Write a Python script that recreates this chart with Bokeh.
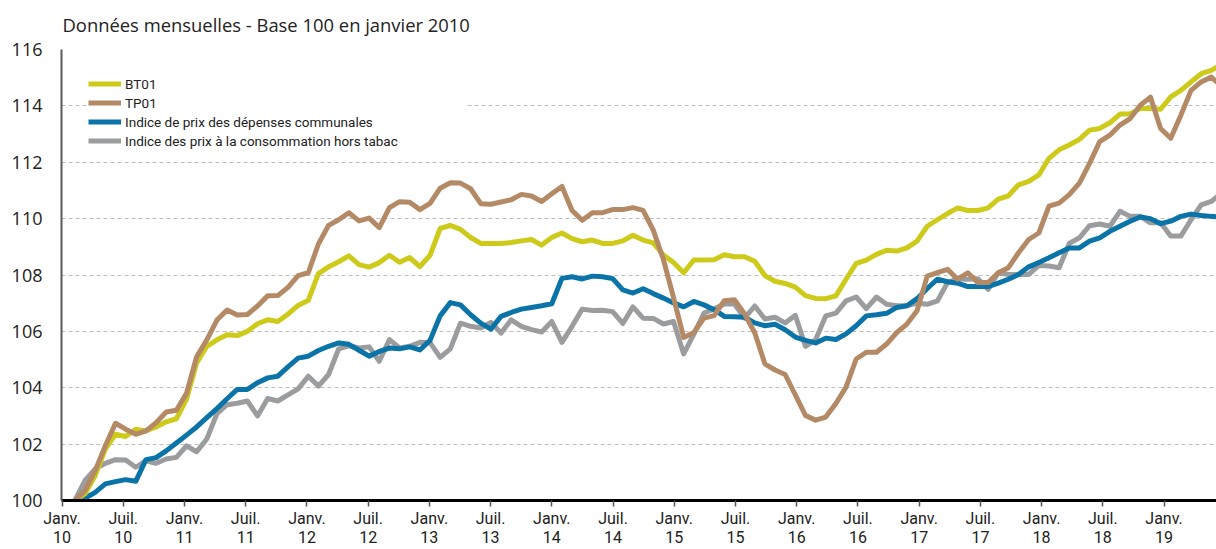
from bokeh.plotting import figure
from bokeh.models import Range1d, FixedTicker, Legend, LegendItem
from bokeh.embed import file_html
from bokeh.resources import INLINE

# month index: 0 = janvier 2010
months = list(range(114))

bt01 = [100.0, 100.24, 100.88, 101.82, 102.35, 102.27, 102.53, 102.47, 102.61, 102.79,
        102.9, 103.59, 104.88, 105.47, 105.7, 105.88, 105.85, 106.0, 106.27, 106.41,
        106.35, 106.61, 106.92, 107.1, 108.05, 108.29, 108.47, 108.68, 108.37, 108.28,
        108.44, 108.7, 108.45, 108.62, 108.3, 108.7, 109.65, 109.76, 109.62, 109.33,
        109.12, 109.12, 109.12, 109.15, 109.21, 109.26, 109.06, 109.33, 109.49, 109.29,
        109.18, 109.24, 109.12, 109.12, 109.21, 109.41, 109.24, 109.14, 108.71, 108.44,
        108.08, 108.53, 108.53, 108.54, 108.72, 108.65, 108.65, 108.49, 107.98, 107.78,
        107.7, 107.57, 107.27, 107.17, 107.16, 107.26, 107.85, 108.41, 108.53, 108.73,
        108.88, 108.85, 108.96, 109.2, 109.73, 109.96, 110.18, 110.38, 110.29, 110.29,
        110.38, 110.69, 110.81, 111.2, 111.32, 111.55, 112.14, 112.44, 112.61, 112.81,
        113.14, 113.2, 113.4, 113.71, 113.71, 113.91, 113.91, 113.88, 114.32, 114.55,
        114.85, 115.14, 115.26, 115.47]

tp01 = [100.0, 100.35, 101.06, 101.94, 102.74, 102.53, 102.35, 102.47, 102.76, 103.14,
        103.2, 103.8, 105.1, 105.7, 106.4, 106.76, 106.58, 106.6, 106.9, 107.26,
        107.27, 107.56, 107.98, 108.08, 109.1, 109.76, 109.96, 110.21, 109.92, 110.02,
        109.68, 110.39, 110.6, 110.58, 110.32, 110.54, 111.08, 111.27, 111.26, 111.06,
        110.53, 110.51, 110.59, 110.67, 110.86, 110.8, 110.61, 110.88, 111.14, 110.29,
        109.94, 110.21, 110.21, 110.32, 110.32, 110.39, 110.29, 109.59, 108.55, 107.2,
        105.78, 105.96, 106.47, 106.56, 107.09, 107.12, 106.62, 105.95, 104.85, 104.63,
        104.47, 103.75, 103.02, 102.85, 102.96, 103.44, 104.02, 105.02, 105.26, 105.26,
        105.55, 105.96, 106.26, 106.73, 107.96, 108.08, 108.2, 107.85, 108.08, 107.73,
        107.73, 108.08, 108.26, 108.79, 109.26, 109.49, 110.44, 110.55, 110.85, 111.26,
        111.96, 112.73, 112.96, 113.32, 113.55, 114.02, 114.31, 113.2, 112.85, 113.67,
        114.55, 114.85, 115.02, 114.7]

ipdc = [100.0, 100.08, 100.29, 100.59, 100.67, 100.74, 100.68, 101.45, 101.52, 101.76,
        102.04, 102.32, 102.61, 102.94, 103.26, 103.61, 103.94, 103.94, 104.18, 104.35,
        104.41, 104.74, 105.05, 105.12, 105.32, 105.47, 105.59, 105.54, 105.33, 105.12,
        105.29, 105.41, 105.38, 105.45, 105.34, 105.68, 106.55, 107.02, 106.94, 106.59,
        106.29, 106.08, 106.53, 106.67, 106.79, 106.85, 106.91, 106.98, 107.88, 107.94,
        107.86, 107.96, 107.94, 107.87, 107.47, 107.36, 107.51, 107.34, 107.18, 107.01,
        106.87, 107.06, 106.94, 106.77, 106.53, 106.52, 106.5, 106.3, 106.2, 106.25,
        106.06, 105.8, 105.68, 105.59, 105.76, 105.71, 105.91, 106.2, 106.55, 106.59,
        106.64, 106.85, 106.91, 107.16, 107.52, 107.85, 107.76, 107.71, 107.59, 107.59,
        107.59, 107.71, 107.85, 108.02, 108.29, 108.44, 108.61, 108.79, 108.96, 108.96,
        109.2, 109.32, 109.55, 109.73, 109.91, 110.06, 110.0, 109.82, 109.91, 110.08,
        110.16, 110.11, 110.08, 110.06]

ipc_ht = [100.0, 100.71, 101.12, 101.32, 101.45, 101.44, 101.18, 101.41, 101.32, 101.47,
          101.53, 101.94, 101.73, 102.18, 103.08, 103.4, 103.45, 103.53, 103.0, 103.62,
          103.53, 103.75, 103.96, 104.41, 104.06, 104.47, 105.38, 105.49, 105.41, 105.45,
          104.94, 105.71, 105.41, 105.47, 105.61, 105.6, 105.08, 105.38, 106.29, 106.18,
          106.12, 106.32, 105.94, 106.41, 106.18, 106.06, 105.98, 106.35, 105.61, 106.18,
          106.79, 106.74, 106.75, 106.7, 106.28, 106.87, 106.47, 106.46, 106.26, 106.35,
          105.2, 105.9, 106.65, 106.8, 106.97, 106.97, 106.47, 106.9, 106.44, 106.5,
          106.3, 106.57, 105.47, 105.7, 106.55, 106.65, 107.08, 107.22, 106.81, 107.22,
          106.96, 106.91, 106.91, 107.0, 106.96, 107.08, 107.73, 107.87, 107.85, 107.87,
          107.49, 108.08, 108.02, 108.02, 108.02, 108.34, 108.32, 108.26, 109.12, 109.32,
          109.75, 109.81, 109.73, 110.26, 110.08, 110.08, 109.85, 109.85, 109.38, 109.38,
          109.96, 110.49, 110.61, 110.9]

tick_labels = ["Janv.\n10", "Juil.\n10", "Janv.\n11", "Juil.\n11", "Janv.\n12", "Juil.\n12",
               "Janv.\n13", "Juil.\n13", "Janv.\n14", "Juil.\n14", "Janv.\n15", "Juil.\n15",
               "Janv.\n16", "Juil.\n16", "Janv.\n17", "Juil.\n17", "Janv.\n18", "Juil.\n18",
               "Janv.\n19"]
y_ticks = [100, 102, 104, 106, 108, 110, 112, 114, 116]

title_text = "Données mensuelles - Base 100 en janvier 2010"
legend_labels = ["BT01", "TP01", "Indice de prix des dépenses communales",
                 "Indice des prix à la consommation hors tabac"]
colors = ["#CDCA1A", "#B48A66", "#0A74A8", "#9B9C9E"]

# layout constants
TICK0, TICK_STEP = -1.27, 6.034
x_ticks = [round(TICK0 + k * TICK_STEP, 3) for k in range(len(tick_labels))]

p = figure(width=1216, height=549, output_backend="svg", toolbar_location=None,
           x_range=Range1d(-1.32, 112.51), y_range=Range1d(100, 116),
           min_border_left=61, min_border_right=0, min_border_top=49, min_border_bottom=47)
p.outline_line_color = None
p.background_fill_color = "white"
p.border_fill_color = "white"

p.title.text = title_text
p.title.text_font = "Open Sans"
p.title.text_font_size = "18.4px"
p.title.text_font_style = "normal"
p.title.text_color = "#222222"
p.title.align = "left"
p.title.vertical_align = "top"
p.title.offset = 1
p.title.standoff = 22

# grid
p.xgrid.grid_line_color = None
p.ygrid.ticker = FixedTicker(ticks=y_ticks)
p.ygrid.grid_line_color = "#BDBDBD"
p.ygrid.grid_line_width = 1
p.ygrid.grid_line_dash = "4 3"

# y axis
p.yaxis.ticker = FixedTicker(ticks=y_ticks)
p.yaxis.axis_line_color = "#5A5A5A"
p.yaxis.axis_line_width = 2
p.yaxis.major_tick_line_color = None
p.yaxis.major_tick_out = 0
p.yaxis.major_tick_in = 0
p.yaxis.minor_tick_line_color = None
p.yaxis.major_label_text_font = "Open Sans"
p.yaxis.major_label_text_font_size = "18px"
p.yaxis.major_label_text_color = "#222222"
p.yaxis.major_label_standoff = 19

# x axis
p.xaxis.ticker = FixedTicker(ticks=x_ticks)
p.xaxis.major_label_overrides = dict(zip(x_ticks, tick_labels))
p.xaxis.axis_line_color = "black"
p.xaxis.axis_line_width = 3
p.xaxis.major_tick_out = 6
p.xaxis.major_tick_in = 0
p.xaxis.major_tick_line_color = "#555555"
p.xaxis.major_tick_line_width = 1.5
p.xaxis.minor_tick_line_color = None
p.xaxis.major_label_text_font = "Roboto"
p.xaxis.major_label_text_font_size = "16px"
p.xaxis.major_label_text_line_height = 1.0
p.xaxis.major_label_text_color = "#222222"
p.xaxis.major_label_standoff = 2

series = [bt01, tp01, ipdc, ipc_ht]
renderers = {}
# draw order: gray, blue, BT01, TP01 on top
for idx in [3, 2, 0, 1]:
    renderers[idx] = p.line(months, series[idx], line_color=colors[idx], line_width=5,
                            line_join="round")

legend = Legend(items=[LegendItem(label=legend_labels[i], renderers=[renderers[i]]) for i in range(4)],
                location=(27, 350))
legend.background_fill_color = "white"
legend.background_fill_alpha = 1.0
legend.border_line_color = None
legend.padding = 2
legend.margin = 0
legend.spacing = 0
legend.label_height = 19
legend.glyph_height = 19
legend.glyph_width = 33
legend.label_standoff = 4
legend.label_width = 340
legend.label_text_font = "Roboto"
legend.label_text_font_size = "13.5px"
legend.label_text_color = "#222222"
p.add_layout(legend)

open("out.html", "w").write(file_html(p, INLINE))
